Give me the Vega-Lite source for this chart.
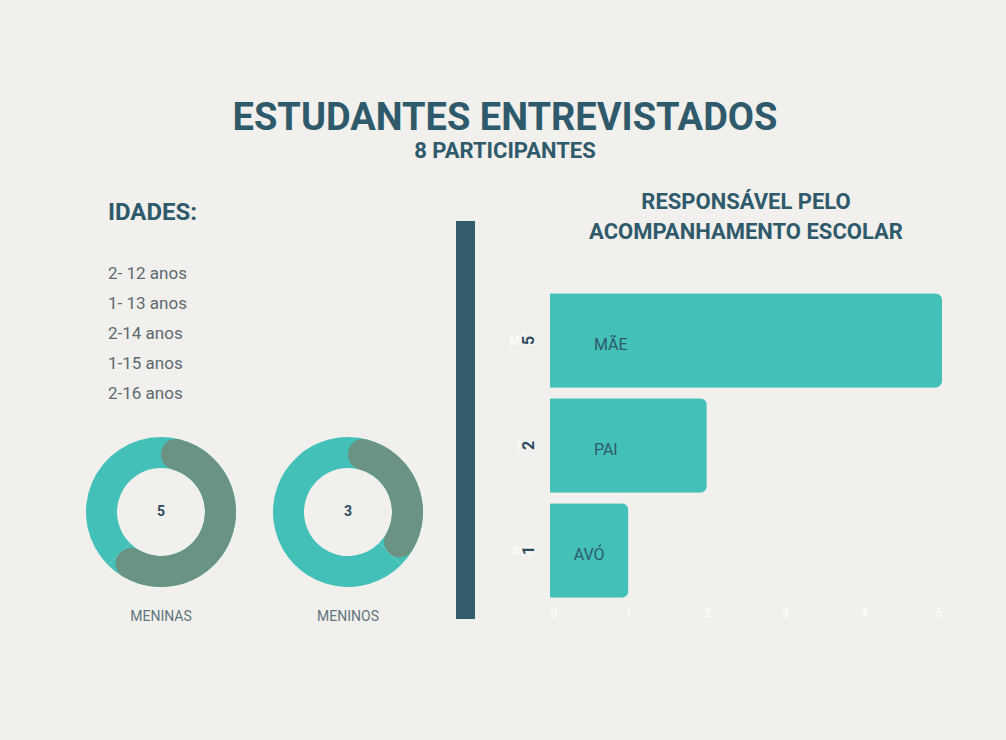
{
  "$schema": "https://vega.github.io/schema/vega-lite/v6.json",
  "background": "#f1f0ec",
  "padding": {"left": 86, "top": 99, "right": 65, "bottom": 130},
  "config": {"view": {"stroke": null}, "font": "Roboto"},
  "title": {
    "text": "ESTUDANTES ENTREVISTADOS",
    "subtitle": "8 PARTICIPANTES",
    "anchor": "middle",
    "font": "Roboto",
    "fontSize": 38,
    "fontWeight": "bold",
    "color": "#2f5a6b",
    "subtitleFont": "Roboto",
    "subtitleFontSize": 22,
    "subtitleFontWeight": "bold",
    "subtitleColor": "#2f5a6b",
    "subtitlePadding": 3,
    "offset": 9,
    "dx": -9
  },
  "spacing": 33,
  "hconcat": [
    {
      "spacing": 11,
      "vconcat": [
        {
          "width": 1,
          "height": 1,
          "data": {"values": [{}]},
          "mark": {"type": "text", "text": ""},
          "encoding": {}
        },
        {
          "center": true,
          "spacing": 28,
          "vconcat": [
            {
              "width": 293,
              "height": 150,
              "title": {
                "text": ["", "IDADES:"],
                "lineHeight": 8,
                "anchor": "start",
                "font": "Roboto",
                "fontSize": 24,
                "fontWeight": "bold",
                "color": "#2f5a6b",
                "offset": 34
              },
              "data": {
                "values": [
                  {"idade": 12, "n": 2, "texto": "2- 12 anos"},
                  {"idade": 13, "n": 1, "texto": "1- 13 anos"},
                  {"idade": 14, "n": 2, "texto": "2-14 anos"},
                  {"idade": 15, "n": 1, "texto": "1-15 anos"},
                  {"idade": 16, "n": 2, "texto": "2-16 anos"}
                ]
              },
              "mark": {"type": "text", "align": "left", "baseline": "middle", "fontSize": 17, "color": "#5d6a70"},
              "encoding": {
                "y": {"field": "idade", "type": "ordinal", "axis": null, "scale": {"paddingInner": 0, "paddingOuter": 0}},
                "x": {"datum": 0, "type": "quantitative", "scale": {"domain": [0, 1]}, "axis": null},
                "text": {"field": "texto"}
              }
            },
            {
              "data": {
                "values": [
                  {"grupo": "MENINAS", "parte": "MENINAS", "n": 5},
                  {"grupo": "MENINAS", "parte": "MENINOS", "n": 3},
                  {"grupo": "MENINOS", "parte": "MENINOS", "n": 3},
                  {"grupo": "MENINOS", "parte": "MENINAS", "n": 5}
                ]
              },
              "spacing": 37,
              "facet": {
                "column": {
                  "field": "grupo",
                  "type": "nominal",
                  "sort": ["MENINAS", "MENINOS"],
                  "header": {
                    "title": null,
                    "labelOrient": "bottom",
                    "labelPadding": 23,
                    "labelFontSize": 14,
                    "labelFont": "Roboto",
                    "labelColor": "#5f7580"
                  }
                }
              },
              "spec": {
                "width": 150,
                "height": 150,
                "layer": [
                  {
                    "mark": {"type": "arc", "outerRadius": 75, "innerRadius": 44, "color": "#43c0b8"},
                    "encoding": {
                      "theta": {"field": "n", "type": "quantitative", "scale": {"domain": [0, 8]}}
                    }
                  },
                  {
                    "transform": [{"filter": "datum.parte === datum.grupo"}],
                    "mark": {"type": "arc", "outerRadius": 75, "innerRadius": 44, "cornerRadius": 15, "color": "#6b9384"},
                    "encoding": {
                      "theta": {"field": "n", "type": "quantitative", "scale": {"domain": [0, 8]}}
                    }
                  },
                  {
                    "transform": [{"filter": "datum.parte === datum.grupo"}],
                    "mark": {"type": "text", "fontSize": 14, "fontWeight": "bold", "color": "#2c4a5e"},
                    "encoding": {"text": {"field": "n", "type": "quantitative"}}
                  }
                ]
              }
            }
          ]
        }
      ]
    },
    {
      "spacing": 39,
      "vconcat": [
        {
          "width": 1,
          "height": 1,
          "data": {"values": [{}]},
          "mark": {"type": "text", "text": ""},
          "encoding": {}
        },
        {
          "width": 19,
          "height": 398,
          "view": {"fill": "#335c6c", "stroke": null},
          "data": {"values": [{}]},
          "mark": {"type": "text", "text": ""},
          "encoding": {}
        }
      ]
    },
    {
      "spacing": 9,
      "vconcat": [
        {
          "width": 1,
          "height": 1,
          "data": {"values": [{}]},
          "mark": {"type": "text", "text": ""},
          "encoding": {}
        },
        {
          "width": 392,
          "height": 315,
          "title": {
            "text": ["RESPONSÁVEL PELO", "ACOMPANHAMENTO ESCOLAR"],
            "anchor": "middle",
            "font": "Roboto",
            "fontSize": 22,
            "lineHeight": 30,
            "fontWeight": "bold",
            "color": "#2f5a6b",
            "offset": 44
          },
          "data": {
            "values": [
              {"responsavel": "MÃE", "n": 5},
              {"responsavel": "PAI", "n": 2},
              {"responsavel": "AVÓ", "n": 1}
            ]
          },
          "encoding": {
            "y": {
              "field": "responsavel",
              "type": "nominal",
              "sort": ["MÃE", "PAI", "AVÓ"],
              "scale": {"paddingInner": 0.1, "paddingOuter": 0.05},
              "axis": {"title": null, "domain": false, "ticks": false, "labelColor": "#ffffff", "labelFontSize": 12, "labelPadding": 16, "labelFont": "Roboto"}
            }
          },
          "layer": [
            {
              "mark": {"type": "bar", "color": "#43c0b8", "cornerRadiusEnd": 7},
              "encoding": {
                "x": {
                  "field": "n",
                  "type": "quantitative",
                  "scale": {"domain": [0, 5]},
                  "axis": {"title": null, "grid": false, "domain": false, "ticks": false, "labelColor": "#ffffff", "labelFontSize": 12, "labelPadding": 4, "values": [0, 1, 2, 3, 4, 5], "format": "d", "labelFont": "Roboto"}
                }
              }
            },
            {
              "transform": [{"filter": "datum.n > 1"}],
              "mark": {"type": "text", "align": "left", "baseline": "middle", "fontSize": 16, "color": "#2f5a6b", "dy": 4},
              "encoding": {
                "x": {"datum": 0.56, "type": "quantitative"},
                "text": {"field": "responsavel"}
              }
            },
            {
              "transform": [{"filter": "datum.n == 1"}],
              "mark": {"type": "text", "align": "center", "baseline": "middle", "fontSize": 16, "color": "#2f5a6b", "dy": 4},
              "encoding": {
                "x": {"datum": 0.5, "type": "quantitative"},
                "text": {"field": "responsavel"}
              }
            },
            {
              "mark": {"type": "text", "align": "center", "baseline": "middle", "angle": 270, "fontSize": 16, "fontWeight": "bold", "color": "#2c4a5e", "dy": -21},
              "encoding": {
                "x": {"datum": 0, "type": "quantitative"},
                "text": {"field": "n", "type": "quantitative"}
              }
            }
          ]
        }
      ]
    }
  ]
}
